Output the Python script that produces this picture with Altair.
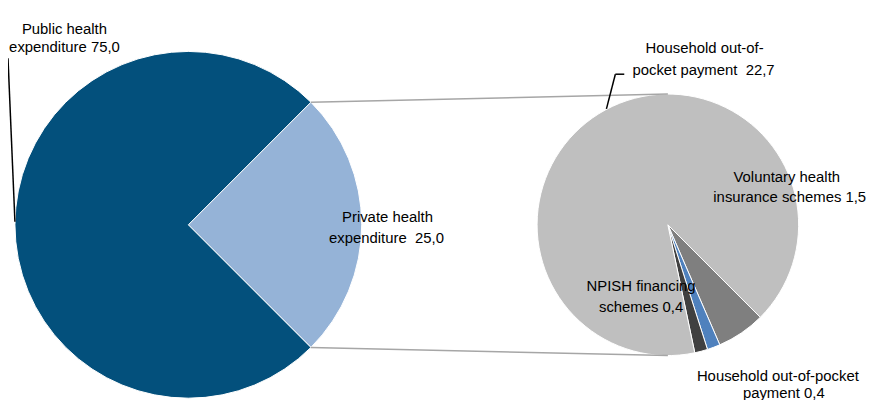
import math
import altair as alt
import pandas as pd

# ---- data ----
left_cats = ["Private health expenditure", "Public health expenditure"]
left_vals = [25.0, 75.0]
left_colors = ["#95B3D7", "#03507C"]

right_cats = ["Voluntary health insurance schemes", "NPISH financing schemes",
              "Household out-of-pocket payment (small)", "Household out-of-pocket payment"]
right_vals = [1.5, 0.4, 0.4, 22.7]
right_colors = ["#7F7F7F", "#4F81BD", "#404040", "#BFBFBF"]


def fmt(v):
    return f"{v:.1f}".replace(".", ",")


# label lines (text) and their layout positions (chart px)
label_lines = [
    "Public health", f"expenditure {fmt(left_vals[1])}",
    "Private health", f"expenditure\u00a0 {fmt(left_vals[0])}",
    "Household out-of-", f"pocket payment\u00a0 {fmt(right_vals[3])}",
    "Voluntary health", f"insurance schemes {fmt(right_vals[0])}",
    "NPISH financing", f"schemes {fmt(right_vals[1])}",
    "Household out-of-pocket", f"payment {fmt(right_vals[2])}",
]
label_x = [57, 57, 383, 382, 703, 702, 786, 789, 639, 639, 777, 783]
label_y = [24, 43, 214, 235, 44, 66, 174, 194, 284, 305, 375, 392]

# ---- layout geometry ----
W, H = 868, 392
LCX, LCY, LR = 182, 217, 175
RCX, RCY, RR = 666, 217, 132
L_START = math.pi / 4
R_START = math.radians(135)

left_df = pd.DataFrame({"cat": left_cats, "val": left_vals, "ord": range(len(left_cats))})
right_df = pd.DataFrame({"cat": right_cats, "val": right_vals, "ord": range(len(right_cats))})

left_pie = alt.Chart(left_df).mark_arc(radius=LR, stroke="white", strokeWidth=1).encode(
    theta=alt.Theta("val:Q", stack=True,
                    scale=alt.Scale(range=[L_START, L_START + 2 * math.pi])),
    color=alt.Color("cat:N", scale=alt.Scale(domain=left_cats, range=left_colors), legend=None),
    order=alt.Order("ord:Q"),
    x=alt.value(LCX), y=alt.value(LCY),
)

right_pie = alt.Chart(right_df).mark_arc(radius=RR, stroke="white", strokeWidth=1).encode(
    theta=alt.Theta("val:Q", stack=True,
                    scale=alt.Scale(range=[R_START, R_START + 2 * math.pi])),
    color=alt.Color("cat:N", scale=alt.Scale(domain=right_cats, range=right_colors), legend=None),
    order=alt.Order("ord:Q"),
    x=alt.value(RCX), y=alt.value(RCY),
)

d = LR * math.sqrt(0.5)
conn_df = pd.DataFrame({
    "x": [LCX + d, LCX + d], "y": [LCY - d, LCY + d],
    "x2": [RCX, RCX], "y2": [RCY - RR, RCY + RR],
})
connectors = alt.Chart(conn_df).mark_rule(color="#A6A6A6", strokeWidth=1.5).encode(
    x=alt.X("x:Q", scale=None, axis=None), y=alt.Y("y:Q", scale=None, axis=None),
    x2="x2:Q", y2="y2:Q",
)

lead_df = pd.DataFrame({
    "x": [0, 604, 613], "y": [49, 100, 65],
    "x2": [7, 613, 622], "y2": [214, 65, 65],
})
leaders = alt.Chart(lead_df).mark_rule(color="black", strokeWidth=1.5).encode(
    x=alt.X("x:Q", scale=None, axis=None), y=alt.Y("y:Q", scale=None, axis=None),
    x2="x2:Q", y2="y2:Q",
)

lab_df = pd.DataFrame({"text": label_lines, "x": label_x, "y": label_y})
labels = alt.Chart(lab_df).mark_text(
    font="Liberation Sans", fontSize=15, align="center", baseline="alphabetic", color="black"
).encode(
    x=alt.X("x:Q", scale=None, axis=None), y=alt.Y("y:Q", scale=None, axis=None),
    text="text:N",
)

chart = alt.layer(left_pie, right_pie, connectors, leaders, labels).resolve_scale(
    theta="independent", color="independent"
).properties(
    width=W, height=H, padding=0, autosize="none"
).configure_view(stroke=None)

chart.save("out.html", embed_options={"renderer": "svg", "actions": False})
